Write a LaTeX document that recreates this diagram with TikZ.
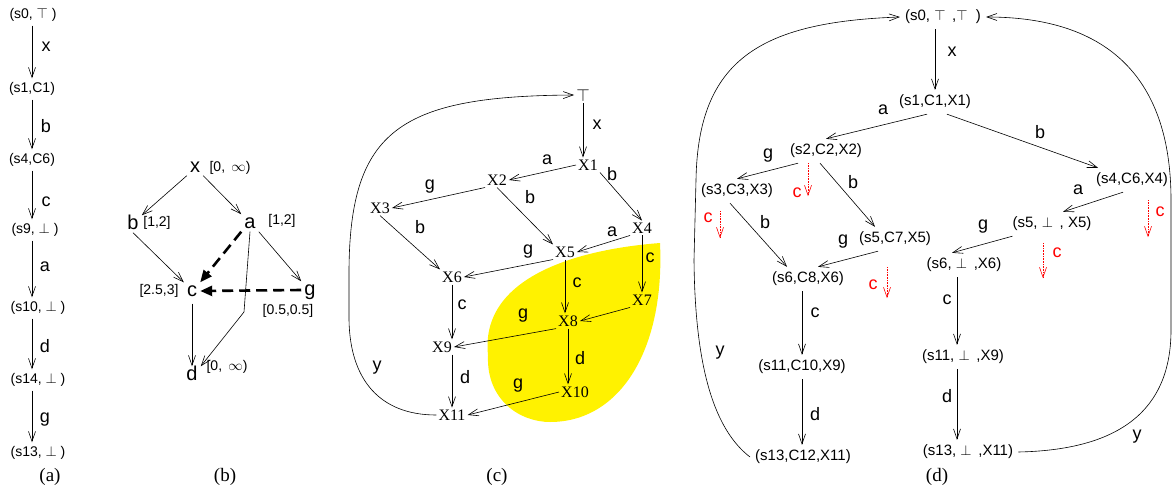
\documentclass[tikz,border=0pt]{standalone}
\usepackage{fontspec}
\setmainfont{Liberation Serif}
\setsansfont{Liberation Sans}
\usetikzlibrary{arrows.meta}

\begin{document}
\begin{tikzpicture}[
      x=1pt, y=-1pt,
      every node/.style={font=\sffamily},
      arr/.style={-{Straight Barb[length=10pt,width=7pt]}, line width=0.6pt},
      dasharr/.style={-{Triangle[length=12pt,width=10pt]}, line width=2.6pt,
                      dash pattern=on 11pt off 6pt},
      redarr/.style={arr, red, densely dotted},
      ast/.style={font=\sffamily\fontsize{14}{16}\selectfont, inner sep=4pt},
      act/.style={font=\sffamily\fontsize{20}{22}\selectfont,
                  text height=11pt, text depth=0pt, inner sep=3pt},
      intv/.style={font=\sffamily\fontsize{14}{16}\selectfont, inner sep=0pt},
      xst/.style={font=\fontsize{16}{18}\selectfont, inner sep=2pt},
      dst/.style={font=\sffamily\fontsize{15}{17}\selectfont, inner sep=5pt},
      lbl/.style={font=\sffamily\fontsize{18}{20}\selectfont, inner sep=0pt},
      rlbl/.style={lbl, red},
      capt/.style={font=\fontsize{19}{21}\selectfont},
    ]
    \useasboundingbox (0,0) rectangle (1175,498);

    %% (a) a single run
    \node[ast] (a0)  at (33,15)  {(s0, $\top$ )};
    \node[ast] (a1)  at (32,89)  {(s1,C1)};
    \node[ast] (a4)  at (32,160) {(s4,C6)};
    \node[ast] (a9)  at (35,230) {(s9, $\bot$ )};
    \node[ast] (a10) at (38,308) {(s10, $\bot$ )};
    \node[ast] (a14) at (38,380) {(s14, $\bot$ )};
    \node[ast] (a13) at (38,453) {(s13, $\bot$ )};

    \draw[arr] (a0.south -| a1) -- (a1.north)   node[lbl] at (46,47)  {x};
    \draw[arr] (a1) -- (a4)                     node[lbl] at (46,126) {b};
    \draw[arr] (a4.south) -- (a9.north -| a4)   node[lbl] at (46,202) {c};
    \draw[arr] (a9.south -| a4) -- (a10.north -| a4) node[lbl] at (45,267) {a};
    \draw[arr] (a10.south -| a4) -- (a14.north -| a4) node[lbl] at (45,346) {d};
    \draw[arr] (a14.south -| a4) -- (a13.north -| a4) node[lbl] at (45,420) {g};

    %% (b) actions with intervals
    \node[act] (bx) at (195,167) {x};
    \node[act] (bb) at (133,224) {b};
    \node[act] (ba) at (250,223) {a};
    \node[act] (bc) at (192,291) {c};
    \node[act] (bg) at (310,290) {g};
    \node[act] (bd) at (192,375) {d};
    \coordinate (bbend) at (244,312);

    \node[intv] (ix) at (230,168) {[0, \,$\infty$)};
    \node[intv] (ib) at (157,223) {[1,2]};
    \node[intv] (ia) at (282,221) {[1,2]};
    \node[intv] (ic) at (159,291) {[2.5,3]};
    \node[intv] (ig) at (288,311) {[0.5,0.5]};
    \node[intv] (id) at (227,367) {[0, \,$\infty$)};

    \draw[arr] (bx.south west) -- (bb.north east);
    \draw[arr] (bx.south east) -- (ba.north west);
    \draw[arr] (bb.south) -- (bc.north west);
    \draw[arr] (ba.south east) -- (bg.north west);
    \draw[arr] (ba.south) -- (bbend) -- (bd.north east);
    \draw[arr, shorten <=4pt] (bc.south) -- (bd.north);
    \draw[dasharr] (ba.south west) -- (bc.north east);
    \draw[dasharr] (bg.west) -- (bc.east);

    %% (c) region graph
    \fill[yellow] (660,243) .. controls (570,250) and (480,280) .. (488,355)
      .. controls (486,400) and (520,422) .. (550,422)
      .. controls (620,422) and (665,350) .. (660,243) -- cycle;

    \node[xst] (ctop) at (583,95)  {$\top$};
    \node[xst] (X1)  at (588,165) {X1};
    \node[xst] (X2)  at (497,180) {X2};
    \node[xst] (X3)  at (380,208) {X3};
    \node[xst] (X4)  at (642,228) {X4};
    \node[xst] (X5)  at (565,252) {X5};
    \node[xst] (X6)  at (452,277) {X6};
    \node[xst] (X7)  at (642,300) {X7};
    \node[xst] (X8)  at (568,321) {X8};
    \node[xst] (X9)  at (442,347) {X9};
    \node[xst] (X10) at (575,392) {X10};
    \node[xst] (X11) at (452,415) {X11};

    \draw[arr] (ctop.south) -- (X1.north -| ctop) node[lbl] at (597,125) {x};
    \draw[arr] (X1.west) -- (X2.east)             node[lbl] at (547,160) {a};
    \draw[arr] (X1.south east) -- (X4.north)      node[lbl] at (612,174) {b};
    \draw[arr] (X2.south west) -- (X3.east)       node[lbl] at (430,187) {g};
    \draw[arr] (X2.south) -- (X5.north west)      node[lbl] at (530,197) {b};
    \draw[arr] (X3.south) -- (X6.north west)      node[lbl] at (420,227) {b};
    \draw[arr] (X4.south west) -- (X5.east)       node[lbl] at (612,232) {a};
    \draw[arr] (X5.south west) -- (X6.east)       node[lbl] at (528,252) {g};
    \draw[arr] (X4.south) -- (X7.north)           node[lbl] at (650,258) {c};
    \draw[arr] (X5.south) -- (X8.north -| X5)     node[lbl] at (577,283) {c};
    \draw[arr] (X6.south) -- (X9.north -| X6)     node[lbl] at (462,305) {c};
    \draw[arr] (X7.south west) -- (X8.east);
    \draw[arr] (X8.south west) -- (X9.east)       node[lbl] at (523,316) {g};
    \draw[arr] (X8.south) -- (X10.north -| X8)    node[lbl] at (580,358) {d};
    \draw[arr] (X9.south -| X11) -- (X11.north)   node[lbl] at (465,377) {d};
    \draw[arr] (X10.west) -- (X11.east)           node[lbl] at (518,386) {g};
    \draw[arr] (X11.west) .. controls (380,415) and (350,380) .. (349,320)
      -- (349,270) .. controls (350,130) and (400,96) .. (ctop.west)
      node[lbl] at (377,368) {y};

    %% (d) product automaton
    \node[dst] (d0)   at (943,17)   {(s0, $\top$ \,,$\top$ \;)};
    \node[dst] (d1)   at (935,102)  {(s1,C1,X1)};
    \node[dst] (d2)   at (826,151)  {(s2,C2,X2)};
    \node[dst] (d3)   at (737,191)  {(s3,C3,X3)};
    \node[dst] (d4)   at (1132,180) {(s4,C6,X4)};
    \node[dst] (d5)   at (895,239)  {(s5,C7,X5)};
    \node[dst] (d5b)  at (1052,224) {(s5, $\bot$ \,, X5)};
    \node[dst] (d6)   at (808,279)  {(s6,C8,X6)};
    \node[dst] (d6b)  at (964,265)  {(s6, $\bot$ \,,X6)};
    \node[dst] (d11)  at (802,367)  {(s11,C10,X9)};
    \node[dst] (d11b) at (963,357)  {(s11, $\bot$ \,,X9)};
    \node[dst] (d13)  at (803,457)  {(s13,C12,X11)};
    \node[dst] (d13b) at (968,452)  {(s13, $\bot$ \,,X11)};

    \draw[arr] (d0.south -| d1) -- (d1.north)                 node[lbl] at (952,52)   {x};
    \draw[arr] ([xshift=-8pt]d1.south) -- (d2.north)          node[lbl] at (883,110)  {a};
    \draw[arr] ([xshift=12pt]d1.south) -- ([xshift=-34pt]d4.north) node[lbl] at (1040,132) {b};
    \draw[arr] ([xshift=-28pt]d2.south) -- (d3.north)         node[lbl] at (768,156)  {g};
    \draw[arr] ([xshift=-6pt]d2.south) -- ([xshift=-20pt]d5.north) node[lbl] at (853,182) {b};
    \draw[arr] ([xshift=-7pt]d3.south) -- ([xshift=-21pt]d6.north) node[lbl] at (765,222) {b};
    \draw[arr] ([xshift=-17pt]d5.south) -- ([xshift=10pt]d6.north) node[lbl] at (843,242) {g};
    \draw[arr] (d6.south -| d11) -- (d11.north)               node[lbl] at (815,313)  {c};
    \draw[arr] (d11.south) -- (d13.north -| d11)              node[lbl] at (815,414)  {d};
    \draw[arr] ([xshift=-9pt]d4.south) -- ([xshift=11pt]d5b.north) node[lbl] at (1078,190) {a};
    \draw[arr] ([xshift=5pt]d5b.south west) -- ([xshift=-12pt]d6b.north) node[lbl] at (983,227) {g};
    \draw[arr] ([xshift=-7pt]d6b.south) -- ([xshift=-6pt]d11b.north) node[lbl] at (947,300) {c};
    \draw[arr] ([xshift=-6pt]d11b.south) -- ([xshift=-11pt]d13b.north) node[lbl] at (947,396) {d};

    %% refused c moves
    \draw[redarr] ([xshift=-18pt]d2.south) -- ++(0,33)            node[rlbl] at (797,193)  {c};
    \draw[redarr] ([xshift=-17pt,yshift=-8pt]d3.south) -- ++(0,27) node[rlbl] at (708,218) {c};
    \draw[redarr] ([xshift=-8pt,yshift=-16pt]d5.south) -- ++(0,31) node[rlbl] at (873,285) {c};
    \draw[redarr] ([xshift=16pt,yshift=-8pt]d4.south) -- ++(0,37) node[rlbl] at (1160,212) {c};
    \draw[redarr] ([xshift=-9pt,yshift=-7pt]d5b.south) -- ++(0,35) node[rlbl] at (1057,253) {c};

    %% y loops back to the start
    \draw[arr] (d13.west) .. controls (715,430) and (695,370) .. (694,260)
      -- (696,180) .. controls (698,60) and (760,22) .. (d0.west)
      node[lbl] at (720,353) {y};
    \draw[arr] (d13b.east) .. controls (1120,450) and (1171,410) .. (1171,330)
      -- (1171,200) .. controls (1171,80) and (1110,17) .. (d0.east)
      node[lbl] at (1137,437) {y};

    %% captions
    \node[capt] (capa) at (50,477)  {(a)};
    \node[capt] (capb) at (225,477) {(b)};
    \node[capt] (capc) at (497,477) {(c)};
    \node[capt] (capd) at (937,477) {(d)};
  \end{tikzpicture}
\end{document}
